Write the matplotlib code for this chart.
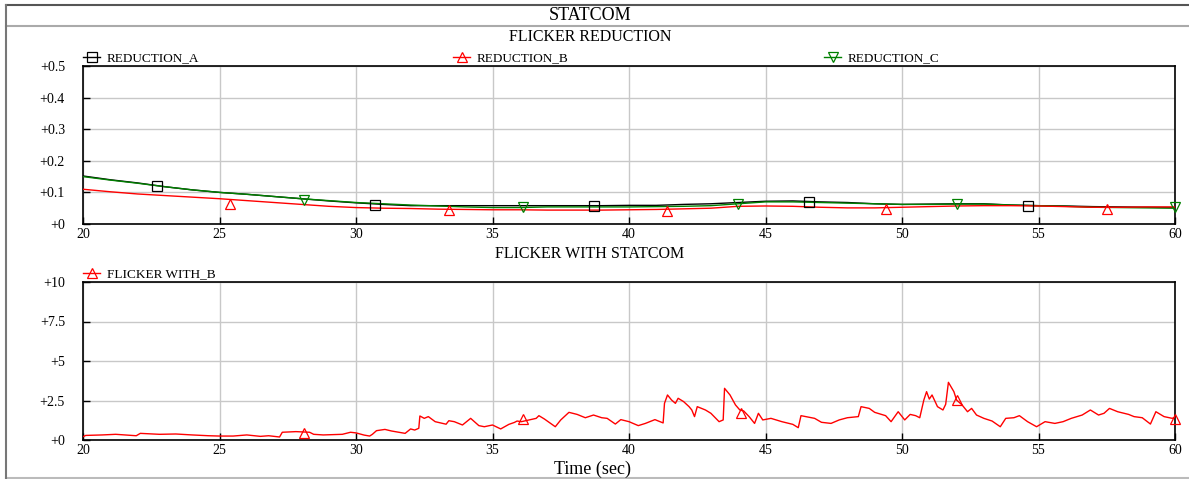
import numpy as np
import matplotlib
matplotlib.use("Agg")
import matplotlib.pyplot as plt
from matplotlib.lines import Line2D
from matplotlib.legend import Legend

plt.rcParams['font.family'] = ['Liberation Serif', 'DejaVu Serif']

# ---------------- data ----------------
t_top = list(range(20, 61))
reduction_a = [0.152, 0.140, 0.130, 0.118, 0.108, 0.100, 0.094, 0.087, 0.080, 0.073,
               0.067, 0.062, 0.058, 0.058, 0.058, 0.058, 0.058, 0.058, 0.058, 0.058,
               0.059, 0.059, 0.062, 0.064, 0.068, 0.072, 0.073, 0.070, 0.068, 0.064,
               0.062, 0.063, 0.064, 0.064, 0.060, 0.058, 0.057, 0.055, 0.054, 0.053, 0.052]
reduction_b = [0.110, 0.102, 0.095, 0.090, 0.085, 0.080, 0.074, 0.068, 0.062, 0.056,
               0.052, 0.050, 0.049, 0.047, 0.046, 0.045, 0.045, 0.044, 0.044, 0.044,
               0.045, 0.046, 0.048, 0.050, 0.056, 0.057, 0.056, 0.053, 0.051, 0.051,
               0.053, 0.055, 0.057, 0.058, 0.058, 0.057, 0.055, 0.053, 0.053, 0.054, 0.054]
reduction_c = [0.150, 0.139, 0.129, 0.118, 0.108, 0.100, 0.094, 0.087, 0.080, 0.074,
               0.068, 0.064, 0.060, 0.057, 0.054, 0.052, 0.052, 0.054, 0.054, 0.054,
               0.054, 0.055, 0.056, 0.058, 0.064, 0.070, 0.070, 0.068, 0.066, 0.064,
               0.062, 0.062, 0.063, 0.063, 0.060, 0.058, 0.056, 0.053, 0.052, 0.051, 0.050]

marker_a_t = [22.7, 30.7, 38.7, 46.6, 54.6]
marker_a_y = [0.121, 0.060, 0.058, 0.069, 0.058]
marker_b_t = [25.4, 33.4, 41.4, 49.4, 57.5]
marker_b_y = [0.064, 0.045, 0.041, 0.048, 0.048]
marker_c_t = [28.1, 36.1, 44.0, 52.0, 60.0]
marker_c_y = [0.077, 0.054, 0.064, 0.063, 0.054]

t_flicker = [20.0, 20.1, 20.7, 21.2, 21.95, 22.1, 22.8, 23.4, 24.0, 24.6, 25.0, 25.5,
             26.0, 26.5, 26.8, 27.2, 27.3, 27.8, 28.3, 28.45, 28.8, 29.5, 29.8, 30.0,
             30.3, 30.5, 30.6, 30.75, 31.06, 31.3, 31.8, 32.0, 32.15, 32.3, 32.34, 32.5,
             32.65, 32.9, 33.3, 33.4, 33.6, 33.9, 34.2, 34.5, 34.7, 35.0, 35.3, 35.6,
             35.8, 35.9, 36.06, 36.6, 36.7, 36.9, 37.3, 37.5, 37.8, 38.1, 38.4, 38.7,
             39.0, 39.2, 39.5, 39.7, 40.0, 40.34, 40.6, 40.95, 41.25, 41.3, 41.41, 41.56,
             41.7, 41.8, 42.0, 42.2, 42.3, 42.4, 42.5, 42.8, 43.0, 43.3, 43.45, 43.5,
             43.7, 43.9, 44.06, 44.2, 44.4, 44.6, 44.74, 44.9, 45.2, 45.6, 46.0, 46.2,
             46.3, 46.8, 47.05, 47.4, 47.7, 48.0, 48.4, 48.5, 48.8, 49.0, 49.4, 49.6,
             49.86, 50.1, 50.3, 50.5, 50.65, 50.8, 50.9, 51.0, 51.1, 51.3, 51.5, 51.6,
             51.7, 51.9, 52.0, 52.2, 52.4, 52.55, 52.73, 53.0, 53.3, 53.6, 53.8, 54.1,
             54.3, 54.6, 54.93, 55.24, 55.6, 55.9, 56.2, 56.6, 56.9, 57.2, 57.4, 57.6,
             57.9, 58.3, 58.5, 58.8, 59.1, 59.3, 59.6, 59.9, 60.0]
flicker_b = [0.21, 0.29, 0.32, 0.36, 0.27, 0.42, 0.36, 0.38, 0.32, 0.27, 0.25, 0.25,
             0.32, 0.23, 0.27, 0.19, 0.49, 0.53, 0.49, 0.36, 0.32, 0.36, 0.49, 0.45,
             0.31, 0.25, 0.36, 0.59, 0.67, 0.57, 0.42, 0.70, 0.63, 0.74, 1.52, 1.37,
             1.48, 1.16, 1.00, 1.22, 1.16, 0.95, 1.37, 0.91, 0.84, 0.95, 0.70, 0.99,
             1.11, 1.20, 1.16, 1.37, 1.54, 1.33, 0.84, 1.27, 1.75, 1.62, 1.41, 1.58,
             1.41, 1.37, 1.01, 1.29, 1.16, 0.91, 1.05, 1.29, 1.08, 2.32, 2.85, 2.53,
             2.32, 2.64, 2.43, 2.11, 1.90, 1.48, 2.11, 1.90, 1.69, 1.16, 1.27, 3.27,
             2.85, 2.22, 1.90, 1.84, 1.48, 1.05, 1.69, 1.27, 1.37, 1.16, 0.99, 0.78,
             1.54, 1.37, 1.12, 1.05, 1.27, 1.41, 1.48, 2.11, 2.00, 1.75, 1.54, 1.16,
             1.79, 1.27, 1.62, 1.54, 1.41, 2.53, 3.06, 2.59, 2.85, 2.11, 1.90, 2.26,
             3.65, 3.06, 2.53, 2.22, 1.79, 2.00, 1.58, 1.37, 1.20, 0.84, 1.37, 1.41,
             1.54, 1.16, 0.84, 1.16, 1.05, 1.16, 1.37, 1.58, 1.90, 1.58, 1.69, 2.00,
             1.79, 1.62, 1.48, 1.41, 1.01, 1.79, 1.48, 1.37, 1.45]
marker_f_t = [28.1, 36.1, 44.1, 52.0, 60.0]
marker_f_y = [0.42, 1.33, 1.69, 2.53, 1.31]

x_ticks = [20, 25, 30, 35, 40, 45, 50, 55, 60]
x_labels = ['20', '25', '30', '35', '40', '45', '50', '55', '60']
top_yticks = [0, 0.1, 0.2, 0.3, 0.4, 0.5]
top_ylabels = ['+0', '+0.1', '+0.2', '+0.3', '+0.4', '+0.5']
bot_yticks = [0, 2.5, 5, 7.5, 10]
bot_ylabels = ['+0', '+2.5', '+5', '+7.5', '+10']

# ---------------- figure ----------------
W, H = 1189, 479
fig = plt.figure(figsize=(W / 100, H / 100), dpi=100)
fig.patch.set_facecolor('white')

ax1 = fig.add_axes([83 / W, 1 - 224 / H, 1092 / W, 158 / H])
ax2 = fig.add_axes([83 / W, 1 - 440 / H, 1092 / W, 158 / H])

# outer frame decoration
def fline(x0, y0, x1, y1, color, lw):
    fig.add_artist(Line2D([x0 / W, x1 / W], [1 - y0 / H, 1 - y1 / H],
                          color=color, lw=lw, transform=fig.transFigure))

fline(6, 5, W, 5, '#555555', 1.5)
fline(6, 25.5, W, 25.5, '#aaaaaa', 1.5)
fline(6, 478, W, 478, '#bbbbbb', 1.5)
fline(6, 5, 6, 478, '#777777', 1.5)

tick_fs = 10
leg_fs = 9.5
for ax in (ax1, ax2):
    ax.set_xlim(20, 60)
    ax.set_xticks(x_ticks)
    ax.set_xticklabels(x_labels)
    ax.grid(True, color='#c8c8c8', linewidth=1.0)
    ax.set_axisbelow(True)
    ax.tick_params(axis='both', direction='in', length=5, width=1.0,
                   labelsize=tick_fs, colors='black')
    ax.tick_params(axis='y', pad=13)
    ax.tick_params(axis='x', pad=3)
    for s in ax.spines.values():
        s.set_linewidth(1.2)
        s.set_color('black')

ax1.set_ylim(0, 0.5)
ax1.set_yticks(top_yticks)
ax1.set_yticklabels(top_ylabels)
ax2.set_ylim(0, 10)
ax2.set_yticks(bot_yticks)
ax2.set_yticklabels(bot_ylabels)

ms = 7
mew = 0.9
ax1.plot(t_top, reduction_a, color='black', lw=1.0, zorder=3)
ax1.plot(t_top, reduction_c, color='#008000', lw=1.0, zorder=3)
ax1.plot(t_top, reduction_b, color='#ff0000', lw=1.0, zorder=3)
ax1.plot(marker_a_t, marker_a_y, ls='none', marker='s', ms=6.5, mfc='none',
         mec='black', mew=mew, zorder=4, clip_on=False)
ax1.plot(marker_b_t, marker_b_y, ls='none', marker='^', ms=ms, mfc='none',
         mec='#ff0000', mew=mew, zorder=4, clip_on=False)
ax1.plot(marker_c_t, marker_c_y, ls='none', marker='v', ms=ms, mfc='none',
         mec='#008000', mew=mew, zorder=4, clip_on=False)

ax2.plot(t_flicker, flicker_b, color='#ff0000', lw=1.0, zorder=3)
ax2.plot(marker_f_t, marker_f_y, ls='none', marker='^', ms=ms, mfc='none',
         mec='#ff0000', mew=mew, zorder=4, clip_on=False)

# legends (one entry each, placed like the reference)
def add_leg(ax, x, label, color, marker, msz):
    h = Line2D([], [], color=color, lw=1.0, marker=marker, ms=msz,
               mfc='none', mec=color, mew=mew)
    leg = Legend(ax, [h], [label], loc='center left',
                 bbox_to_anchor=(x, 1 + 7.5 / 158), frameon=False,
                 borderpad=0, borderaxespad=0, handlelength=1.3,
                 handletextpad=0.5, fontsize=leg_fs, numpoints=1)
    ax.add_artist(leg)

add_leg(ax1, 0.0, 'REDUCTION_A', 'black', 's', 6.5)
add_leg(ax1, (453 - 83) / 1092, 'REDUCTION_B', '#ff0000', '^', ms)
add_leg(ax1, (824 - 83) / 1092, 'REDUCTION_C', '#008000', 'v', ms)
add_leg(ax2, 0.0, 'FLICKER WITH_B', '#ff0000', '^', ms)

# titles
cx = 590 / W
fig.text(cx, 1 - 16 / H, 'STATCOM', ha='center', va='center', fontsize=13)
fig.text(cx, 1 - 37 / H, 'FLICKER REDUCTION', ha='center', va='center', fontsize=11.5)
fig.text(cx, 1 - 254 / H, 'FLICKER WITH STATCOM', ha='center', va='center', fontsize=11.5)
fig.text(593 / W, 1 - 469 / H, 'Time (sec)', ha='center', va='center', fontsize=13)

fig.savefig('out.png', dpi=100)
